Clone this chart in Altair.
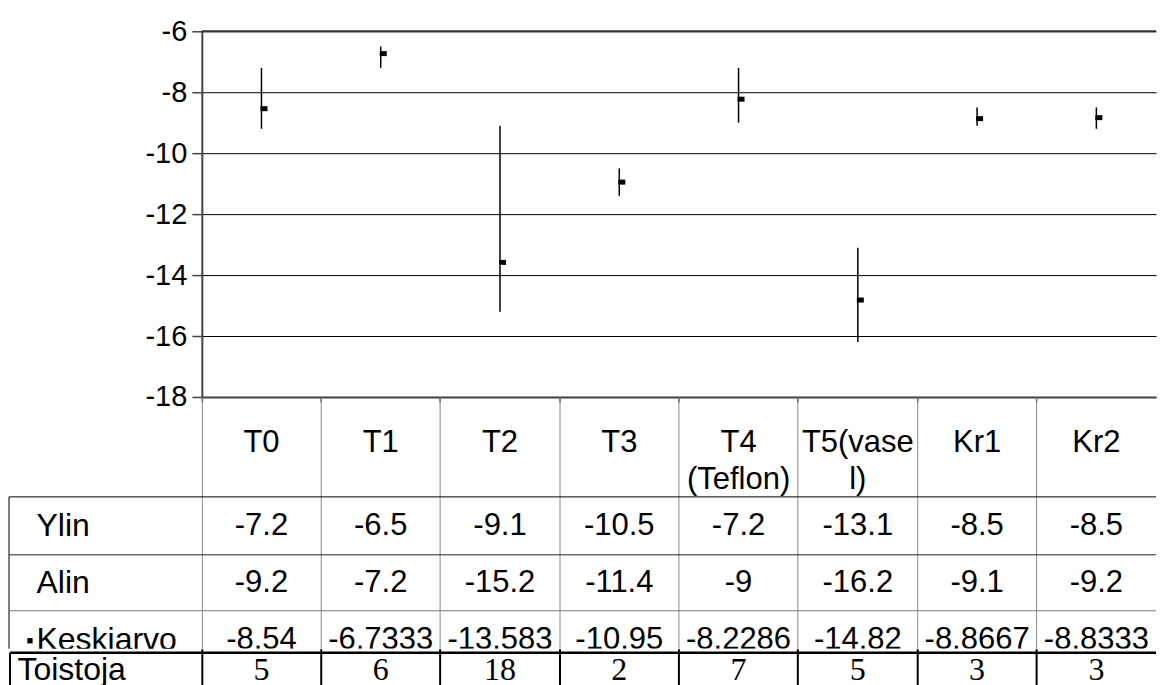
import altair as alt
import pandas as pd

# ---------------- data ----------------
categories = ["T0", "T1", "T2", "T3", "T4 (Teflon)", "T5(vasel)", "Kr1", "Kr2"]
header_labels = ["T0", "T1", "T2", "T3", "T4\n(Teflon)", "T5(vase\nl)", "Kr1", "Kr2"]
ylin = [-7.2, -6.5, -9.1, -10.5, -7.2, -13.1, -8.5, -8.5]
alin = [-9.2, -7.2, -15.2, -11.4, -9, -16.2, -9.1, -9.2]
keskiarvo = [-8.54, -6.7333, -13.583, -10.95, -8.2286, -14.82, -8.8667, -8.8333]
toistoja = [5, 6, 18, 2, 7, 5, 3, 3]
row_names = ["Ylin", "Alin", "Keskiarvo", "Toistoja"]
y_ticks = [-6, -8, -10, -12, -14, -16, -18]

# ---------------- layout / style ----------------
FONT = "Liberation Sans"
SERIF = "Liberation Serif"
W = 955
LEFT = 193
PLOT_H = 366
TXT = 31


def fmt(v):
    return f"{v:g}"


xscale = alt.Scale(type="band", domain=categories, paddingInner=0, paddingOuter=0)


def grid_x(color="#888", width=1, z=0):
    return alt.X(
        "cat:N", scale=xscale, sort=categories,
        axis=alt.Axis(title=None, labels=False, ticks=False, domain=False, grid=True,
                      bandPosition=0, gridColor=color, gridWidth=width,
                      gridOpacity=1, zindex=z))


line_df = pd.DataFrame({"k": [0]})

# ---------------- main high-low-close plot ----------------
main_df = pd.DataFrame({"cat": categories, "ylin": ylin, "alin": alin, "mean": keskiarvo})
x_main = alt.X(
    "cat:N", scale=xscale, sort=categories,
    axis=alt.Axis(title=None, labels=False, bandPosition=0, tickSize=5,
                  tickColor="#555", tickWidth=1.5, domainColor="#444",
                  domainWidth=2, grid=False))
y_scale = alt.Scale(domain=[-18, -6], nice=False, zero=False)
y_axis = alt.Axis(title=None, values=y_ticks, labelFont=FONT, labelFontSize=29,
                  labelColor="black", labelPadding=5, tickSize=10, tickColor="#444",
                  tickWidth=1.5, domainColor="#444", domainWidth=2, grid=True,
                  gridColor="black", gridWidth=1, gridOpacity=1,
                  labelExpr="'' + datum.value")

hl = alt.Chart(main_df).mark_rule(color="black", strokeWidth=1.5).encode(
    x=x_main, y=alt.Y("alin:Q", scale=y_scale, axis=y_axis), y2="ylin:Q")
close = alt.Chart(main_df).mark_tick(color="black", thickness=5, size=7,
                                     xOffset=2.5, opacity=1).encode(
    x=x_main, y=alt.Y("mean:Q", scale=y_scale))
top_border = alt.Chart(line_df).mark_rule(color="#333", strokeWidth=2).encode(
    x=alt.value(0), x2=alt.value(W), y=alt.value(0))
main = alt.layer(hl, close, top_border).properties(width=W, height=PLOT_H)

# ---------------- data table: header ----------------
hdr_df = pd.DataFrame({"cat": categories, "hdr": header_labels})
header = alt.Chart(hdr_df).mark_text(
    font=FONT, fontSize=TXT, lineBreak="\n", lineHeight=37, color="black",
    baseline="middle", align="center").encode(
    x=grid_x(), y=alt.value(46), text="hdr:N").properties(width=W, height=100)


# ---------------- data table: value rows ----------------
def value_row(values, name, h, yoff, top_color, marker=False, clip=False):
    d = pd.DataFrame({"cat": categories, "txt": [fmt(v) for v in values], "row": name})
    txt = alt.Chart(d).mark_text(font=FONT, fontSize=TXT, color="black",
                                 baseline="middle", yOffset=yoff, clip=clip).encode(
        x=grid_x(),
        y=alt.Y("row:N", axis=alt.Axis(
            title=None, ticks=False, tickSize=0, domain=False, labelAlign="left",
            labelPadding=166, labelFont=FONT, labelFontSize=32, labelColor="black",
            labelOffset=yoff, labelLimit=400)),
        text="txt:N")
    top = alt.Chart(line_df).mark_rule(color=top_color, strokeWidth=1).encode(
        x=alt.value(-LEFT), x2=alt.value(W), y=alt.value(0))
    left = alt.Chart(line_df).mark_rule(color="black", strokeWidth=1).encode(
        x=alt.value(-LEFT), y=alt.value(0), y2=alt.value(h))
    layers = [txt, top, left]
    if marker:
        layers.append(alt.Chart(line_df).mark_point(
            shape="square", filled=True, size=28, color="black", opacity=1).encode(
            x=alt.value(-172), y=alt.value(h / 2 + yoff + 1)))
    return alt.layer(*layers).properties(width=W, height=h)


r_ylin = value_row(ylin, row_names[0], 58, 0, "black")
r_alin = value_row(alin, row_names[1], 56, 0, "#222")
r_kesk = value_row(keskiarvo, row_names[2], 38, 10, "#777", marker=True, clip=True)

# ---------------- Toistoja row ----------------
TH = 48
TOFF = -3
toi_df = pd.DataFrame({"cat": categories, "txt": [str(v) for v in toistoja], "row": row_names[3]})
cover = alt.Chart(line_df).mark_rect(color="white").encode(
    x=alt.value(-LEFT), x2=alt.value(W), y=alt.value(0), y2=alt.value(TH))
ttxt = alt.Chart(toi_df).mark_text(font=SERIF, fontSize=32, color="black",
                                   baseline="middle", yOffset=TOFF).encode(
    x=grid_x("black", 2, 1),
    y=alt.Y("row:N", axis=alt.Axis(
        title=None, ticks=False, tickSize=0, domain=False, labelAlign="left",
        labelPadding=185, labelFont=FONT, labelFontSize=32, labelColor="black",
        labelLimit=400, labelOffset=TOFF, zindex=1)),
    text="txt:N")
ttop = alt.Chart(line_df).mark_rule(color="black", strokeWidth=2.5).encode(
    x=alt.value(-LEFT + 1), x2=alt.value(W), y=alt.value(4))
tleft = alt.Chart(line_df).mark_rule(color="black", strokeWidth=2).encode(
    x=alt.value(-LEFT + 1), y=alt.value(4), y2=alt.value(TH))
r_toi = alt.layer(cover, ttxt, ttop, tleft).properties(width=W, height=TH)

chart = alt.vconcat(
    main, header, r_ylin, r_alin, r_kesk, r_toi, spacing=0, bounds="flush"
).resolve_scale(x="independent", y="independent").properties(
    padding={"left": 0, "top": 8, "right": 0, "bottom": 0}
).configure(font=FONT).configure_view(stroke="transparent")

chart.save("out.html", embed_options={"renderer": "svg", "actions": False})
